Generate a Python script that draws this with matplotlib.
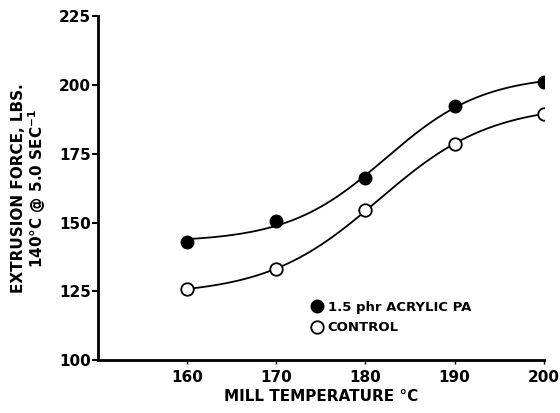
import numpy as np
import matplotlib
matplotlib.use("Agg")
import matplotlib.pyplot as plt

temps = [160, 170, 180, 190, 200]
acrylic = [143, 150.5, 166, 192.5, 201]
control = [126, 133, 154.5, 178.5, 189.5]
yticks = [100, 125, 150, 175, 200, 225]
xticks = [160, 170, 180, 190, 200]

plt.rcParams['font.family'] = ['DejaVu Sans']
plt.rcParams['font.weight'] = 'bold'


def logistic_fit(x, y):
    """Least-squares fit of a smooth S-curve y = a + b/(1+exp(-(x-c)/d))."""
    x = np.asarray(x, float)
    y = np.asarray(y, float)
    best = None
    for c in np.linspace(170, 195, 101):
        for d in np.linspace(3, 12, 91):
            s = 1.0 / (1.0 + np.exp(-(x - c) / d))
            A = np.column_stack([np.ones_like(s), s])
            coef, *_ = np.linalg.lstsq(A, y, rcond=None)
            err = np.sum((A @ coef - y) ** 2)
            if best is None or err < best[0]:
                best = (err, coef, c, d)
    _, (a, b), c, d = best
    return lambda t: a + b / (1.0 + np.exp(-(t - c) / d))


fig = plt.figure(figsize=(5.6, 4.13), dpi=100)
ax = fig.add_axes([0.175, 0.128, 0.796, 0.833])

xs = np.linspace(160, 200, 200)
for data in (acrylic, control):
    f = logistic_fit(temps, data)
    ax.plot(xs, f(xs), color='black', lw=1.3, zorder=2)

ax.plot(temps, acrylic, 'o', ms=9, mfc='black', mec='black', zorder=3)
ax.plot(temps, control, 'o', ms=9, mfc='white', mec='black', mew=1.3, zorder=3)

ax.set_xlim(150, 200)
ax.set_ylim(100, 225)
ax.set_xticks(xticks)
ax.set_yticks(yticks)
ax.spines['top'].set_visible(False)
ax.spines['right'].set_visible(False)
ax.spines['left'].set_linewidth(2)
ax.spines['bottom'].set_linewidth(2)
ax.tick_params(axis='y', direction='out', length=4, width=1.5, labelsize=11, pad=1)
ax.tick_params(axis='x', direction='out', length=3, width=1, labelsize=11, pad=4)
for lbl in ax.get_xticklabels() + ax.get_yticklabels():
    lbl.set_fontweight('bold')

ax.set_xlabel('MILL TEMPERATURE °C', fontsize=11, fontweight='bold', labelpad=3)
ax.set_ylabel('EXTRUSION FORCE, LBS.\n140°C @ 5.0 SEC$^{-1}$', fontsize=11,
              fontweight='bold', labelpad=8, linespacing=1.0)

ax.plot([], [], 'o', ms=9, mfc='black', mec='black', label='1.5 phr ACRYLIC PA')
ax.plot([], [], 'o', ms=9, mfc='white', mec='black', mew=1.3, label='CONTROL')
h, l = ax.get_legend_handles_labels()
ax.legend(h[-2:], l[-2:], loc='lower left', bbox_to_anchor=(0.45, 0.04), frameon=False,
          fontsize=9.5, handletextpad=0.3, labelspacing=0.6, handlelength=1.0)

fig.savefig('out.png', dpi=100)
